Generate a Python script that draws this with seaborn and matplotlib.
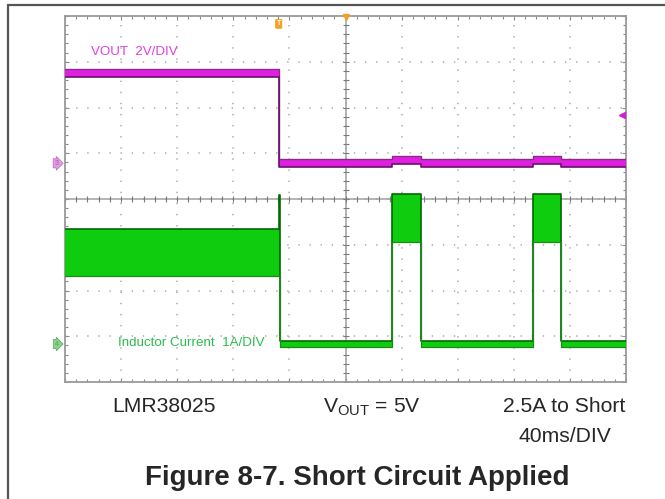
import numpy as np
import pandas as pd
import matplotlib
matplotlib.use("Agg")
import matplotlib.pyplot as plt
import seaborn as sns
from matplotlib.lines import Line2D
import matplotlib.transforms as mtransforms

# ---- data (time in ms, 40 ms/div, screen centre = 0; amplitude in screen divisions) ----
vout_time = [-200, -47.6, -47.6, 33.5, 33.5, 53.5, 53.5, 133.6, 133.6, 153.8, 153.8, 200]
vout_level = [2.76, 2.76, 0.78, 0.78, 0.86, 0.86, 0.78, 0.78, 0.86, 0.86, 0.78, 0.78]
vout_halfwidth = 0.085

cur_time = [-200, -47.6, -47.6, -46.8, -46.8, 33.5, 33.5, 53.5, 53.5, 133.6, 133.6, 153.8, 153.8, 200]
cur_top = [-0.66, -0.66, 0.09, 0.09, -3.10, -3.10, 0.10, 0.10, -3.10, -3.10, 0.10, 0.10, -3.10, -3.10]
cur_bot = [-1.68, -1.68, -1.68, -1.68, -3.24, -3.24, -0.95, -0.95, -3.24, -3.24, -0.95, -0.95, -3.24, -3.24]

trigger_time = -47.6
vout_ground = 0.78
cur_ground = -3.17

label_vout = "VOUT  2V/DIV"
label_cur = "Inductor Current  1A/DIV"
caption_left = "LMR38025"
caption_mid = r"V$_{\mathrm{OUT}}$ = 5V"
caption_right = "2.5A to Short"
caption_time = "40ms/DIV"
title = "Figure 8-7. Short Circuit Applied"

# ---- style ----
sns.set_theme(style="white")
plt.rcParams["font.family"] = ["Liberation Sans", "DejaVu Sans"]
plt.rcParams["mathtext.fontset"] = "custom"
plt.rcParams["mathtext.rm"] = "Liberation Sans"
plt.rcParams["mathtext.it"] = "Liberation Sans"
plt.rcParams["lines.scale_dashes"] = False

W, H = 665, 499
fig = plt.figure(figsize=(W / 100, H / 100), dpi=100)
fig.patch.set_facecolor("white")

x0, x1, y0, y1 = 65, 626, 16, 382
ax = fig.add_axes([x0 / W, 1 - y1 / H, (x1 - x0) / W, (y1 - y0) / H])
ax.set_facecolor("white")
ax.set_xlim(-200, 200)
ax.set_ylim(-4, 4)

grid_col = "#b0b0b0"
ax.set_xticks(np.arange(-200, 201, 40))
ax.set_yticks(np.arange(-4, 5, 1))
ax.set_xticks(np.arange(-200, 201, 8), minor=True)
ax.set_yticks(np.arange(-4, 4.01, 0.2), minor=True)
ax.set_xticklabels([])
ax.set_yticklabels([])
ax.grid(True, which="major", color=grid_col, linestyle=(0, (1.0, 7.0)), linewidth=1.2)
ax.tick_params(which="both", direction="in", top=True, right=True, bottom=True, left=True,
               color="#8a8a8a")
ax.tick_params(which="major", length=3, width=0.8)
ax.tick_params(which="minor", length=2, width=0.8)
for s in ax.spines.values():
    s.set_color("#9a9a9a")
    s.set_linewidth(1.3)

# centre axes with tick marks
ax.axhline(0, color="#a0a0a0", lw=1.1, zorder=1)
ax.axvline(0, color="#a0a0a0", lw=1.1, zorder=1)
mt = np.arange(-200, 201, 8)
ax.plot(mt, np.zeros_like(mt), ls="none", marker="|", ms=4, mew=0.8, color="#7a7a7a", zorder=1)
my = np.arange(-4, 4.01, 0.2)
ax.plot(np.zeros_like(my), my, ls="none", marker="_", ms=4, mew=0.8, color="#7a7a7a", zorder=1)

# ---- current trace ----
cur = pd.DataFrame({"t": cur_time, "top": cur_top, "bot": cur_bot})
ax.fill_between(cur["t"], cur["bot"], cur["top"], color="#0fcc0f", lw=0, zorder=3)
sns.lineplot(data=cur, x="t", y="top", ax=ax, color="#006a00", lw=1.2, sort=False,
             estimator=None, zorder=4)
sns.lineplot(data=cur, x="t", y="bot", ax=ax, color="#1a8a1a", lw=0.9, sort=False,
             estimator=None, zorder=4)

# ---- VOUT trace ----
v = pd.DataFrame({"t": vout_time, "lvl": vout_level})
v["hi"] = v["lvl"] + vout_halfwidth
v["lo"] = v["lvl"] - vout_halfwidth
ax.fill_between(v["t"], v["lo"], v["hi"], color="#e020e0", lw=0, zorder=5)
sns.lineplot(data=v, x="t", y="hi", ax=ax, color="#8a2a8a", lw=1.0, sort=False,
             estimator=None, zorder=6)
sns.lineplot(data=v, x="t", y="lo", ax=ax, color="#6a106a", lw=1.2, sort=False,
             estimator=None, zorder=6)
ax.set_xlabel("")
ax.set_ylabel("")

# ---- labels on screen ----
ax.text(-181.5, 3.22, label_vout, color="#e040e0", fontsize=9.6, ha="left", va="center", zorder=7)
ax.text(-162, cur_ground + 0.03, label_cur, color="#2dbb4d", fontsize=9.6, ha="left",
        va="center", zorder=7)

# channel markers, trigger markers
blend = mtransforms.blended_transform_factory(ax.transAxes, ax.transData)
ax.text(-0.012, vout_ground, "3", transform=blend, fontsize=5, color="#a060a0", ha="right",
        va="center", bbox=dict(boxstyle="rarrow,pad=0.15", fc="#e49ce4", ec="#c070c0", lw=0.6),
        clip_on=False, zorder=8)
ax.text(-0.012, cur_ground, "4", transform=blend, fontsize=5, color="#60a060", ha="right",
        va="center", bbox=dict(boxstyle="rarrow,pad=0.15", fc="#8fd08f", ec="#60b060", lw=0.6),
        clip_on=False, zorder=8)
ax.text(trigger_time, 3.83, "T", fontsize=5, color="#ffffff", ha="center", va="center",
        fontweight="bold",
        bbox=dict(boxstyle="round,pad=0.15", fc="#f5a020", ec="#f5a020", lw=0.5), zorder=8)
ax.plot([0], [3.97], marker="v", ms=5, color="#f5a020", clip_on=False, zorder=8)
ax.plot([197], [1.84], marker="<", ms=4, color="#d020d0", zorder=8)

# ---- captions ----
def fx(px):
    return px / W

def fy(py):
    return 1 - py / H

fig.text(fx(164), fy(407), caption_left, fontsize=15.2, ha="center", va="center")
fig.text(fx(372), fy(407), caption_mid, fontsize=15.2, ha="center", va="center")
fig.text(fx(564), fy(407), caption_right, fontsize=15.2, ha="center", va="center")
fig.text(fx(565), fy(437), caption_time, fontsize=15.2, ha="center", va="center")
fig.text(fx(357), fy(478), title, fontsize=20, fontweight="bold", ha="center", va="center")

# page frame
fig.add_artist(Line2D([fx(8), 1.0], [fy(5), fy(5)], color="#555555", lw=1.6))
fig.add_artist(Line2D([fx(8), fx(8)], [fy(5), 0.0], color="#555555", lw=1.6))

fig.savefig("out.png", dpi=100, facecolor="white")
